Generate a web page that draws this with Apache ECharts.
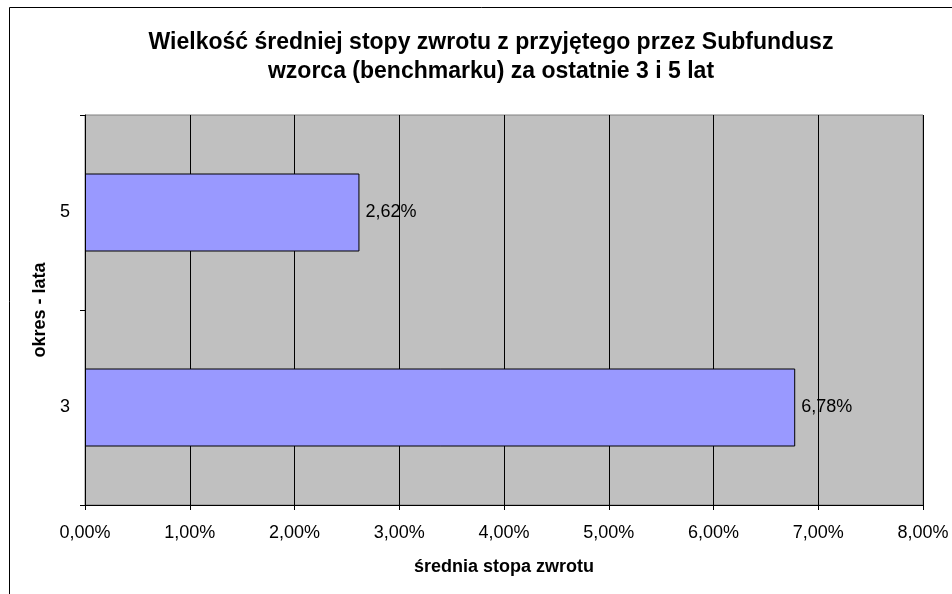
<!DOCTYPE html>
<html><head><meta charset="utf-8">
<script src="https://cdn.jsdelivr.net/npm/echarts@6/dist/echarts.min.js"></script>
<style>html,body{margin:0;padding:0;background:#fff}#c{width:952px;height:594px}</style>
</head><body><div id="c"></div>
<script>
const categories = ['3', '5'];
const values = [6.78, 2.62];
const xTicks = [0, 1, 2, 3, 4, 5, 6, 7, 8];
const titleLines = ['Wielkość średniej stopy zwrotu z przyjętego przez Subfundusz', 'wzorca (benchmarku) za ostatnie 3 i 5 lat'];
const xName = 'średnia stopa zwrotu';
const yName = 'okres - lata';

const fmt = v => v.toFixed(2).replace('.', ',') + '%';
const F = 'Liberation Sans, Arial, sans-serif';
const chart = echarts.init(document.getElementById('c'));
chart.setOption({
  animation: false,
  backgroundColor: '#fff',
  title: {
    text: titleLines.join('\n'), left: 486, top: 23, textAlign: 'center',
    textStyle: { fontFamily: F, fontWeight: 'bold', fontSize: 23, lineHeight: 29, color: '#000' }
  },
  graphic: [{ type: 'rect', left: 7, top: 5, silent: true, z: 100,
    shape: { width: 1000, height: 1000 }, style: { fill: 'none', stroke: '#000', lineWidth: 1 } }],
  grid: { left: 85, top: 115, right: 29, bottom: 89, show: true, backgroundColor: '#C0C0C0', borderColor: '#808080', borderWidth: 1 },
  xAxis: {
    type: 'value', min: xTicks[0], max: xTicks[xTicks.length - 1], interval: 1,
    name: xName, nameLocation: 'middle', nameGap: 53,
    nameTextStyle: { fontFamily: F, fontWeight: 'bold', fontSize: 18, color: '#000' },
    axisLine: { show: true, lineStyle: { color: '#000' } },
    axisTick: { show: true, length: 5, lineStyle: { color: '#000' } },
    axisLabel: { formatter: fmt, fontFamily: F, fontSize: 18, color: '#000', margin: 19 },
    splitLine: { show: true, lineStyle: { color: '#000', width: 1 } }
  },
  yAxis: {
    type: 'category', data: categories,
    name: yName, nameLocation: 'middle', nameGap: 36, nameRotate: 90,
    nameTextStyle: { fontFamily: F, fontWeight: 'bold', fontSize: 18, color: '#000' },
    axisLine: { show: true, lineStyle: { color: '#000' } },
    axisTick: { show: true, length: 5, alignWithLabel: false, lineStyle: { color: '#000' } },
    axisLabel: { fontFamily: F, fontSize: 18, color: '#000', margin: 15 },
    splitLine: { show: false }
  },
  series: [{
    type: 'bar', data: values, barCategoryGap: '60%',
    itemStyle: { color: '#9999FF', borderColor: '#000', borderWidth: 1 },
    label: { show: true, position: 'right', distance: 6, formatter: p => fmt(p.value),
      fontFamily: F, fontSize: 18, color: '#000' }
  }]
});
</script></body></html>
